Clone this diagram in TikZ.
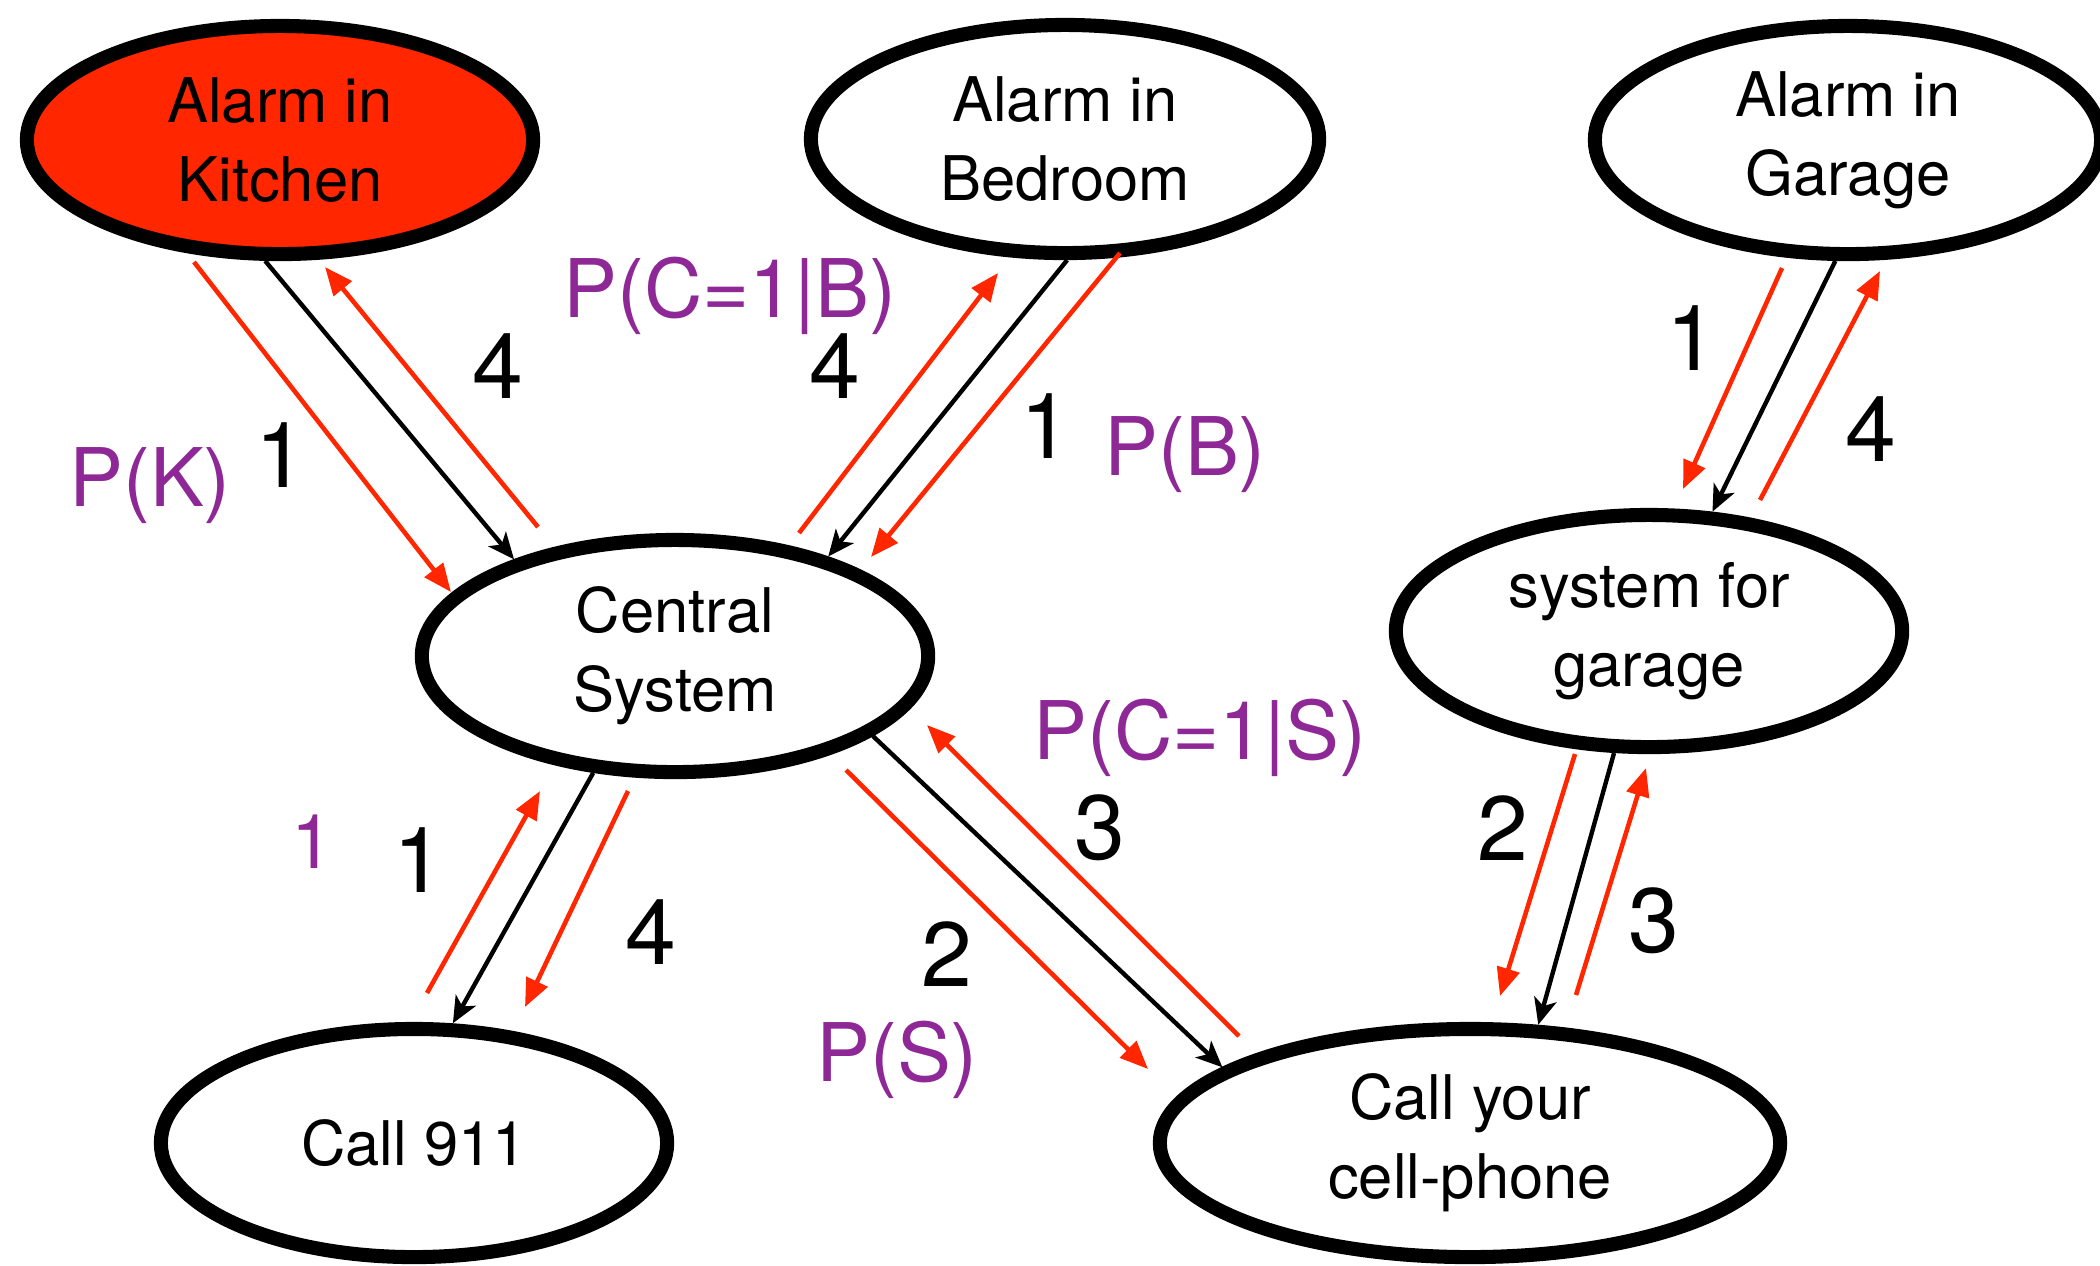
\documentclass[tikz,border=0pt]{standalone}
\usepackage{fontspec}
\setmainfont{TeX Gyre Heros}
\usetikzlibrary{shapes.geometric,arrows.meta}
\definecolor{alarmred}{RGB}{255,38,0}
\definecolor{probpurple}{RGB}{142,40,150}
\tikzset{
  ell/.style={ellipse, draw=black, line width=4pt, inner sep=0pt, align=center,
    minimum width=5.06cm, minimum height=2.28cm,
    font=\fontsize{17.5}{22.4}\selectfont},
  redarr/.style={draw=alarmred, line width=1.3pt, -{Triangle[length=8pt,width=6.5pt]}},
  blkarr/.style={draw=black, line width=1.25pt, -{Stealth[length=7.5pt,width=6.5pt,inset=2pt]}},
  numlbl/.style={inner sep=0pt, font=\fontsize{26}{30}\selectfont},
  problbl/.style={inner sep=0pt, text=probpurple, font=\fontsize{23}{27}\selectfont},
  smallprob/.style={inner sep=0pt, text=probpurple, font=\fontsize{21.5}{25}\selectfont}
}
\begin{document}
\begin{tikzpicture}[x=0.01cm,y=-0.01cm]
\useasboundingbox (0,0) rectangle (2100,1265);
\clip (0,0) rectangle (2100,1265);
% ellipses
\node[ell, fill=alarmred] (kitchen) at (280,140) {Alarm in\\Kitchen};
\node[ell, minimum width=5.08cm] (bedroom) at (1065,139) {Alarm in\\Bedroom};
\node[ell] (garage) at (1848,140) {Alarm in\\Garage};
\node[ell, minimum height=2.32cm] (central) at (675,656) {Central\\System};
\node[ell, minimum height=2.32cm] (sysgarage) at (1649,631) {system for\\garage};
\node[ell] (call911) at (414,1143) {Call 911};
\node[ell, minimum width=6.20cm] (cell) at (1470,1143) {Call your\\cell-phone};

% red arrow end points
\coordinate (kr1a) at (194,262); \coordinate (kr1b) at (451,592);
\coordinate (kr4a) at (538,527); \coordinate (kr4b) at (325,267);
\coordinate (br4a) at (799,533); \coordinate (br4b) at (998,273);
\coordinate (br1a) at (1120,253); \coordinate (br1b) at (871,557);
\coordinate (gr1a) at (1782,268); \coordinate (gr1b) at (1683,489);
\coordinate (gr4a) at (1760,500); \coordinate (gr4b) at (1880,271);
\coordinate (nr1a) at (427,993); \coordinate (nr1b) at (540,791);
\coordinate (nr4a) at (628,791); \coordinate (nr4b) at (525,1007);
\coordinate (cr2a) at (846,770); \coordinate (cr2b) at (1148,1069);
\coordinate (cr3a) at (1239,1036); \coordinate (cr3b) at (927,725);
\coordinate (sr2a) at (1575,754); \coordinate (sr2b) at (1500,996);
\coordinate (sr3a) at (1576,995); \coordinate (sr3b) at (1646,768);

% kitchen - central
\draw[redarr] (kr1a) -- (kr1b);
\draw[blkarr] (kitchen.263.2) -- (central.149.4);
\draw[redarr] (kr4a) -- (kr4b);
% bedroom - central
\draw[redarr] (br4a) -- (br4b);
\draw[blkarr] (bedroom.271) -- (central.33.8);
\draw[redarr] (br1a) -- (br1b);
% garage - system for garage
\draw[redarr] (gr1a) -- (gr1b);
\draw[blkarr] (garage.264.2) -- (sysgarage.62.9);
\draw[redarr] (gr4a) -- (gr4b);
% central - call 911
\draw[redarr] (nr1a) -- (nr1b);
\draw[blkarr] (central.235.7) -- (call911.72.3);
\draw[redarr] (nr4a) -- (nr4b);
% central - cell
\draw[redarr] (cr2a) -- (cr2b);
\draw[blkarr] (central.338.4) -- (cell.163.5);
\draw[redarr] (cr3a) -- (cr3b);
% system for garage - cell
\draw[redarr] (sr2a) -- (sr2b);
\draw[blkarr] (sysgarage.254.5) -- (cell.60.8);
\draw[redarr] (sr3a) -- (sr3b);

% labels
\node[numlbl] (lk4) at (498,366) {4};
\node[numlbl] (lk1) at (281,455) {1};
\node[problbl] (lpk) at (150,486) {P(K)};
\node[problbl] (lpcb) at (730,296) {P(C=1|B)};
\node[numlbl] (lb4) at (835,366) {4};
\node[numlbl] (lb1) at (1046,426) {1};
\node[problbl] (lpb) at (1185,455) {P(B)};
\node[numlbl] (lg1) at (1692,338) {1};
\node[numlbl] (lg4) at (1871,429) {4};
\node[smallprob] (lp1) at (313,842) {1};
\node[numlbl] (ln1) at (419,860) {1};
\node[numlbl] (ln4) at (651,932) {4};
\node[problbl] (lpcs) at (1200,738) {P(C=1|S)};
\node[numlbl] (lc3) at (1100,828) {3};
\node[numlbl] (lc2) at (947,954) {2};
\node[problbl] (lps) at (897,1060) {P(S)};
\node[numlbl] (ls2) at (1503,828) {2};
\node[numlbl] (ls3) at (1654,921) {3};
\end{tikzpicture}
\end{document}
